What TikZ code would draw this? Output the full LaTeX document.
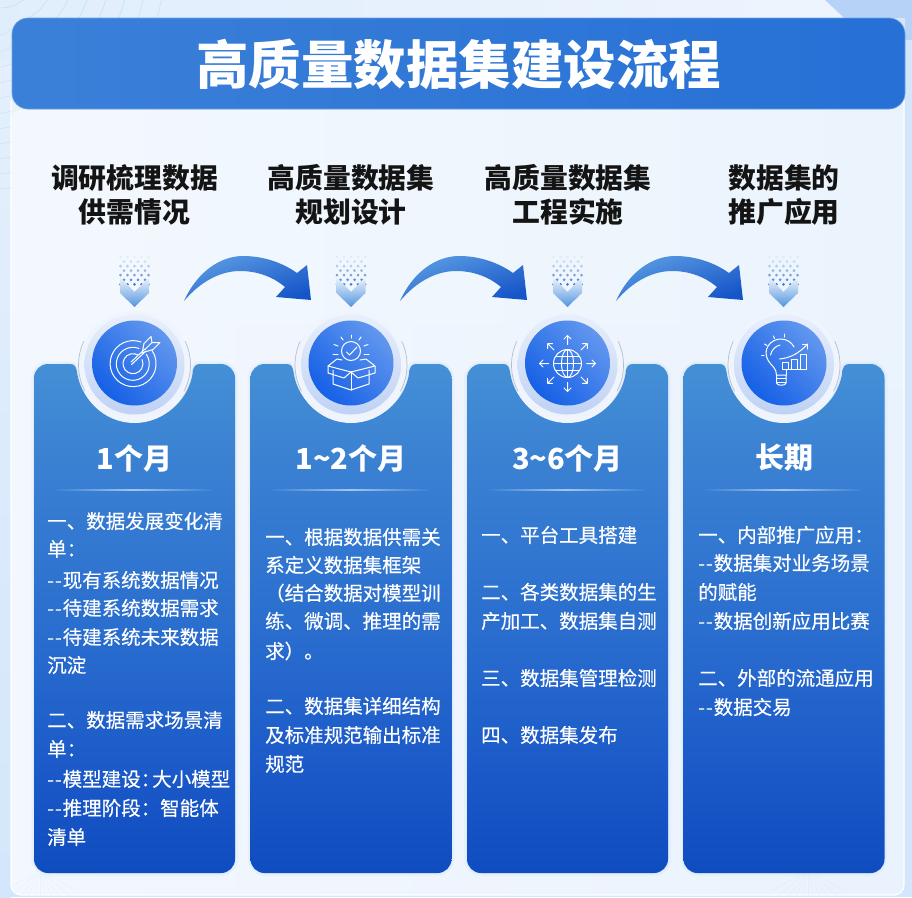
\documentclass[tikz,border=0pt]{standalone}
\usepackage{fontspec}
\usetikzlibrary{calc}
\setmainfont{Noto Sans CJK SC}
\newfontfamily\bodyf[FakeBold=0.35]{Noto Sans CJK SC}
\newfontfamily\headf{Noto Sans CJK SC}
\definecolor{pagebg}{HTML}{EEF5FE}
\definecolor{stripbg}{HTML}{D3E6FB}
\definecolor{cornerbg}{HTML}{B6D2F6}
\definecolor{cardtop}{HTML}{4490D6}
\definecolor{cardhi}{HTML}{3A80D2}
\definecolor{cardmid}{HTML}{2B6FCF}
\definecolor{cardlo}{HTML}{1A58C8}
\definecolor{cardbot}{HTML}{0F4CBF}
\definecolor{sepbase}{HTML}{3A80D3}
\definecolor{bartop}{HTML}{3B80D8}
\definecolor{barbot}{HTML}{2670D6}
\definecolor{discA}{HTML}{6297EE}
\definecolor{discB}{HTML}{1560E6}
\definecolor{ringc}{HTML}{BFD2F5}
\definecolor{ringl}{HTML}{E9EFFB}
\definecolor{arrA}{HTML}{5A9BE2}
\definecolor{arrB}{HTML}{1655C8}
\definecolor{dotc}{HTML}{3D78C8}
\pgfdeclareverticalshading{cardsh}{100bp}{color(0bp)=(cardbot); color(25bp)=(cardbot); color(34bp)=(cardlo); color(50bp)=(cardmid); color(65bp)=(cardhi); color(75bp)=(cardtop); color(100bp)=(cardtop)}
\newcommand{\dd}{{-}\kern1pt{-}\kern1pt}
\tikzset{
  x=1pt,y=-1pt,
  ttl/.style={font=\headf\bfseries\fontsize{52.5}{56}\selectfont,text=white,inner sep=0},
  head/.style={font=\headf\bfseries\fontsize{27.8}{30}\selectfont,text=black!92,inner sep=0},
  month/.style={font=\headf\bfseries\fontsize{29}{32}\selectfont,text=white,inner sep=0},
  body/.style={font=\bodyf\fontsize{19.5}{22}\selectfont,text=white,anchor=west,inner sep=0},
  icon/.style={draw=white,line width=1pt,line cap=round,line join=round},
}
% card: #1 left x
\newcommand{\cardshape}[2]{%
  \path[#2] (#1+14,364) -- (#1+36,364) .. controls (#1+41,364) and (#1+42,367) .. (#1+43,372)
    arc[start angle=172,end angle=8,radius=58.5]
    -- (#1+158.5,372) .. controls (#1+159.5,367) and (#1+161,364) .. (#1+166,364)
    -- (#1+187,364) arc[start angle=-90,end angle=0,radius=14] -- (#1+201,859)
    arc[start angle=0,end angle=90,radius=14] -- (#1+14,873)
    arc[start angle=90,end angle=180,radius=14] -- (#1,378)
    arc[start angle=180,end angle=270,radius=14] -- cycle;}
% halo, disc: #1 centre x
\newcommand{\disc}[1]{%
  \begin{scope}[shift={(#1,363)}]
    \shade[top color=pagebg,bottom color=ringl!70!white] (0,4) circle[radius=56];
    \draw[ringc!70!black!60!white,line width=.7pt] (0,2) ++(152:56) arc[start angle=152,end angle=205,radius=56];
    \draw[ringc!70!black!60!white,line width=.7pt] (0,2) ++(28:56) arc[start angle=28,end angle=-25,radius=56];
    \shade[top color=ringl,bottom color=ringc] (0,1.5) circle[radius=50];
    \shade[shading=axis,left color=discA,right color=discB,shading angle=-45] (0,0) circle[radius=42.5];
  \end{scope}}
% chevron and dots: #1 centre x
\newcommand{\chev}[1]{%
  \begin{scope}[shift={(#1,0)}]
    \foreach \r/\o in {0/.08,1/.2,2/.35,3/.5,4/.65,5/.8,6/.95}{%
      \pgfmathsetmacro{\yy}{257+\r*4.55}
      \pgfmathtruncatemacro{\isodd}{mod(\r,2)}
      \ifnum\isodd=1
        \foreach \k in {-10.5,-3.5,3.5,10.5}{\fill[dotc,opacity=\o] (\k,\yy) circle[radius=1.5];}
      \else
        \foreach \k in {-14,-7,0,7,14}{\fill[dotc,opacity=\o] (\k,\yy) circle[radius=1.5];}
      \fi}
    \shade[top color=white!60!arrA!25!white,bottom color=arrA!90!arrB]
       (-14.5,277) -- (0,292) -- (14.5,277) -- (14.5,293) -- (0,307) -- (-14.5,293) -- cycle;
  \end{scope}}
% curved arrow: #1 x offset
\newcommand{\curved}[1]{%
  \begin{scope}[shift={(#1,0)}]
    \shade[left color=arrA,right color=arrB,shading angle=20]
      (184,301) .. controls (198,270) and (222,256) .. (243,256)
      .. controls (264,256) and (283,263) .. (297,273)
      -- (307,265) -- (311,300) -- (276,297) -- (285,287)
      .. controls (272,276) and (256,271) .. (240,271)
      .. controls (220,271) and (200,282) .. (184,301) -- cycle;
  \end{scope}}
\begin{document}
\begin{tikzpicture}
\useasboundingbox (0,0) rectangle (912,897);
\fill[stripbg] (0,0) rectangle (912,897);
\shade[top color=stripbg!60!white,bottom color=stripbg] (0,0) rectangle (11,897);
% top band behind the title bar
\shade[left color=stripbg!70!white,right color=pagebg] (0,0) rectangle (905,60);
\fill[cornerbg] (825,0) -- (912,0) -- (912,62) -- (868,40) -- cycle;
\fill[stripbg] (905,40) rectangle (912,897);
% panel
\shade[top color=pagebg!80!stripbg,bottom color=pagebg!70!stripbg,rounded corners=10pt] (11,40) rectangle (904,895);
\shade[left color=white,right color=pagebg,opacity=.5,rounded corners=10pt] (11,110) rectangle (904,895);
\draw[white,line width=1.2pt,rounded corners=10pt] (11,100) -- (11,895) -- (904,895) -- (904,100);
\fill[cornerbg!45!pagebg] (848,18) -- (868,40) -- (905,60) -- (905,18) -- cycle;
% faint lines, top left corner
\begin{scope}
  \clip (0,0) rectangle (175,20);
  \foreach \r in {20,38,...,180}{\draw[stripbg!75!arrA,line width=.6pt,opacity=.55] (0,-30) circle[radius=\r];}
\end{scope}
\begin{scope}
  \clip (0,0) rectangle (11,200);
  \foreach \r in {50,65,...,200}{\draw[stripbg!75!arrA,line width=.6pt,opacity=.45] (-20,-10) circle[radius=\r];}
\end{scope}
% faint rays along the bottom
\begin{scope}
  \clip (11,874) rectangle (904,895);
  \foreach \k in {0,12,...,120}{\draw[stripbg!80!arrA,line width=.5pt,opacity=.18] (808,870) -- ++(\k+30:40);}
  \foreach \k in {0,12,...,120}{\draw[stripbg!80!arrA,line width=.5pt,opacity=.18] (40,870) -- ++(\k+30:40);}
\end{scope}
% title bar
\shade[left color=bartop,right color=barbot,rounded corners=16pt] (12,18) rectangle (905,109);
\draw[bartop!75!white,line width=.6pt,rounded corners=16pt] (12,18) rectangle (905,109);
\node[ttl] (title) at (458.5,64) {高质量数据集建设流程};
% headings
\node[head] (h1a) at (134.5,178) {调研梳理数据};
\node[head] (h1b) at (134.5,212) {供需情况};
\node[head] (h2a) at (351,178) {高质量数据集};
\node[head] (h2b) at (351,212) {规划设计};
\node[head] (h3a) at (568,178) {高质量数据集};
\node[head] (h3b) at (568,212) {工程实施};
\node[head] (h4a) at (784,178) {数据集的};
\node[head] (h4b) at (784,212) {推广应用};
% connectors between steps
\curved{0}\curved{216}\curved{432}
\chev{134.5}\chev{351}\chev{567.5}\chev{783.5}
% cards
\foreach \cxl in {34,250.5,467,683.5}{%
  \cardshape{\cxl}{draw=stripbg!70!arrA,line width=6pt,opacity=.1}
  \cardshape{\cxl}{draw=stripbg!70!arrA,line width=2.5pt,opacity=.15}
  \cardshape{\cxl}{shade,shading=cardsh}
  \disc{\cxl+100.5}
  \shade[left color=sepbase,right color=sepbase,middle color=white!55!sepbase]
    (\cxl+20,489.8) rectangle (\cxl+179,490.9);
}
% month labels
\node[month] (m1) at (134.5,458) {1个月};
\node[month] (m2) at (351,458) {1\textasciitilde 2个月};
\node[month] (m3) at (567.5,458) {3\textasciitilde 6个月};
\node[month] (m4) at (784,458) {长期};
% card 1 text
\node[body] (a01) at (47,521) {一、数据发展变化清};
\node[body] (a02) at (47,549) {单：};
\node[body] (a03) at (47,580) {\dd 现有系统数据情况};
\node[body] (a04) at (47,608) {\dd 待建系统数据需求};
\node[body] (a05) at (47,637) {\dd 待建系统未来数据};
\node[body] (a06) at (47,665) {沉淀};
\node[body] (a07) at (47,720) {二、数据需求场景清};
\node[body] (a08) at (47,749) {单：};
\node[body] (a09) at (47,779) {\dd 模型建设：\kern-8pt 大小模型};
\node[body] (a10) at (47,808) {\dd 推理阶段：智能体};
\node[body] (a11) at (47,837) {清单};
% card 2 text
\node[body] (b1) at (265,537) {一、根据数据供需关};
\node[body] (b2) at (265,565) {系定义数据集框架};
\node[body] (b3) at (265,593) {（结合数据对模型训};
\node[body] (b4) at (265,621) {练、微调、推理的需};
\node[body] (b5) at (265,651) {求）。};
\node[body] (b6) at (265,706) {二、数据集详细结构};
\node[body] (b7) at (265,735) {及标准规范输出标准};
\node[body] (b8) at (265,764) {规范};
% card 3 text
\node[body] (c1) at (481,535) {一、平台工具搭建};
\node[body] (c2) at (481,592) {二、各类数据集的生};
\node[body] (c3) at (481,621) {产加工、数据集自测};
\node[body] (c4) at (481,678) {三、数据集管理检测};
\node[body] (c5) at (481,735) {四、数据集发布};
% card 4 text
\node[body] (d1) at (698,535) {一、内部推广应用：};
\node[body] (d2) at (698,563) {\dd 数据集对业务场景};
\node[body] (d3) at (698,592) {的赋能};
\node[body] (d4) at (698,621) {\dd 数据创新应用比赛};
\node[body] (d5) at (698,678) {二、外部的流通应用};
\node[body] (d6) at (698,707) {\dd 数据交易};
% icon 1: target
\begin{scope}[shift={(133,363.5)}]
  \draw[icon] (8,-21.5) arc[start angle=-70,end angle=-395,radius=23];
  \draw[icon] (6,-15) arc[start angle=-68,end angle=-395,radius=16.5];
  \draw[icon] (5,-8.5) arc[start angle=-60,end angle=-385,radius=10];
  \draw[icon] (-1.5,1) -- (13,-12.5);
  \draw[icon] (-2,-1.5) -- (12,-14.5);
  \draw[icon] (9,-10) -- (11,-20) -- (18,-27) -- (19,-21) -- (27,-21) -- (20,-14) -- (10,-11);
  \draw[icon] (12,-14) -- (19,-21);
\end{scope}
% icon 2: box and sun
\begin{scope}[shift={(351,363)}]
  \draw[icon] (-18,7) -- (-18,21) -- (0,27) -- (18,21) -- (18,7);
  \draw[icon] (0,9) -- (0,27);
  \draw[icon] (0,9) -- (-23,3) -- (-14,-4) -- (-9,-3);
  \draw[icon] (0,9) -- (-7,15) -- (-23,10) -- (-23,3);
  \draw[icon] (0,9) -- (24,3) -- (15,-4) -- (9,-3);
  \draw[icon] (0,9) -- (7,15) -- (24,10) -- (24,3);
  \draw[icon] (0,-12) circle[radius=9.5];
  \draw[icon] (-4.5,-11) -- (-1.5,-8) -- (6,-16);
  \draw[icon] (0,-25) -- (0,-28);
  \draw[icon] (-8,-23) -- (-10,-26); \draw[icon] (8,-23) -- (10,-26);
  \draw[icon] (-13,-17) -- (-17,-18.5); \draw[icon] (13,-17) -- (17,-18.5);
  \draw[icon] (-13,-9) -- (-18,-9); \draw[icon] (13,-9) -- (18,-9);
\end{scope}
% icon 3: globe and arrows
\begin{scope}[shift={(567.5,363.5)}]
  \draw[icon] (0,0) circle[radius=14];
  \draw[icon] (0,0) ellipse[x radius=6,y radius=14];
  \draw[icon] (0,-14) -- (0,14) (-14,0) -- (14,0) (-12,-7) -- (12,-7) (-12,7) -- (12,7);
  \foreach \a in {0,45,...,315}{%
    \begin{scope}[rotate=\a]
      \draw[icon] (19,0) -- (28,0) (24.5,-3.5) -- (28,0) -- (24.5,3.5);
    \end{scope}}
\end{scope}
% icon 4: bulb and chart
\begin{scope}[shift={(783.5,363)}]
  \draw[icon] (-7,12) .. controls (-7,5) and (-12,3) .. (-15,-2) .. controls (-22,-13) and (-13,-24) .. (-3,-24) .. controls (3,-24) and (8,-21) .. (10.5,-16);
  \draw[icon] (2.5,12) -- (2.5,7);
  \draw[icon] (-13,-8) .. controls (-12,-13) and (-8,-17) .. (-3.5,-18);
  \draw[icon] (-7,12) -- (2.5,12) -- (2.5,20) .. controls (2.5,23) and (-7,23) .. (-7,20) -- cycle;
  \draw[icon] (-7,15.5) -- (2.5,15.5) (-7,19) -- (2.5,19);
  \draw[icon] (-4,-4) .. controls (6,-5) and (15,-9) .. (24,-19);
  \draw[icon] (19,-19) -- (24,-19) -- (24,-14);
  \draw[icon] (-1,6) -- (-1,-0.5) -- (5,-0.5) -- (5,6);
  \draw[icon] (8,6) -- (8,-4) -- (14,-4) -- (14,6);
  \draw[icon] (17,6) -- (17,-9) -- (23,-9) -- (23,6);
  \draw[icon] (-1,6) -- (23,6);
  \draw[icon] (0.5,-29) -- (0.5,-26);
  \draw[icon] (-10,-27) -- (-9,-24.5);
  \draw[icon] (-19,-19) -- (-16.5,-17.5);
  \draw[icon] (-22,-8) -- (-19.5,-8);
\end{scope}
\end{tikzpicture}
\end{document}
